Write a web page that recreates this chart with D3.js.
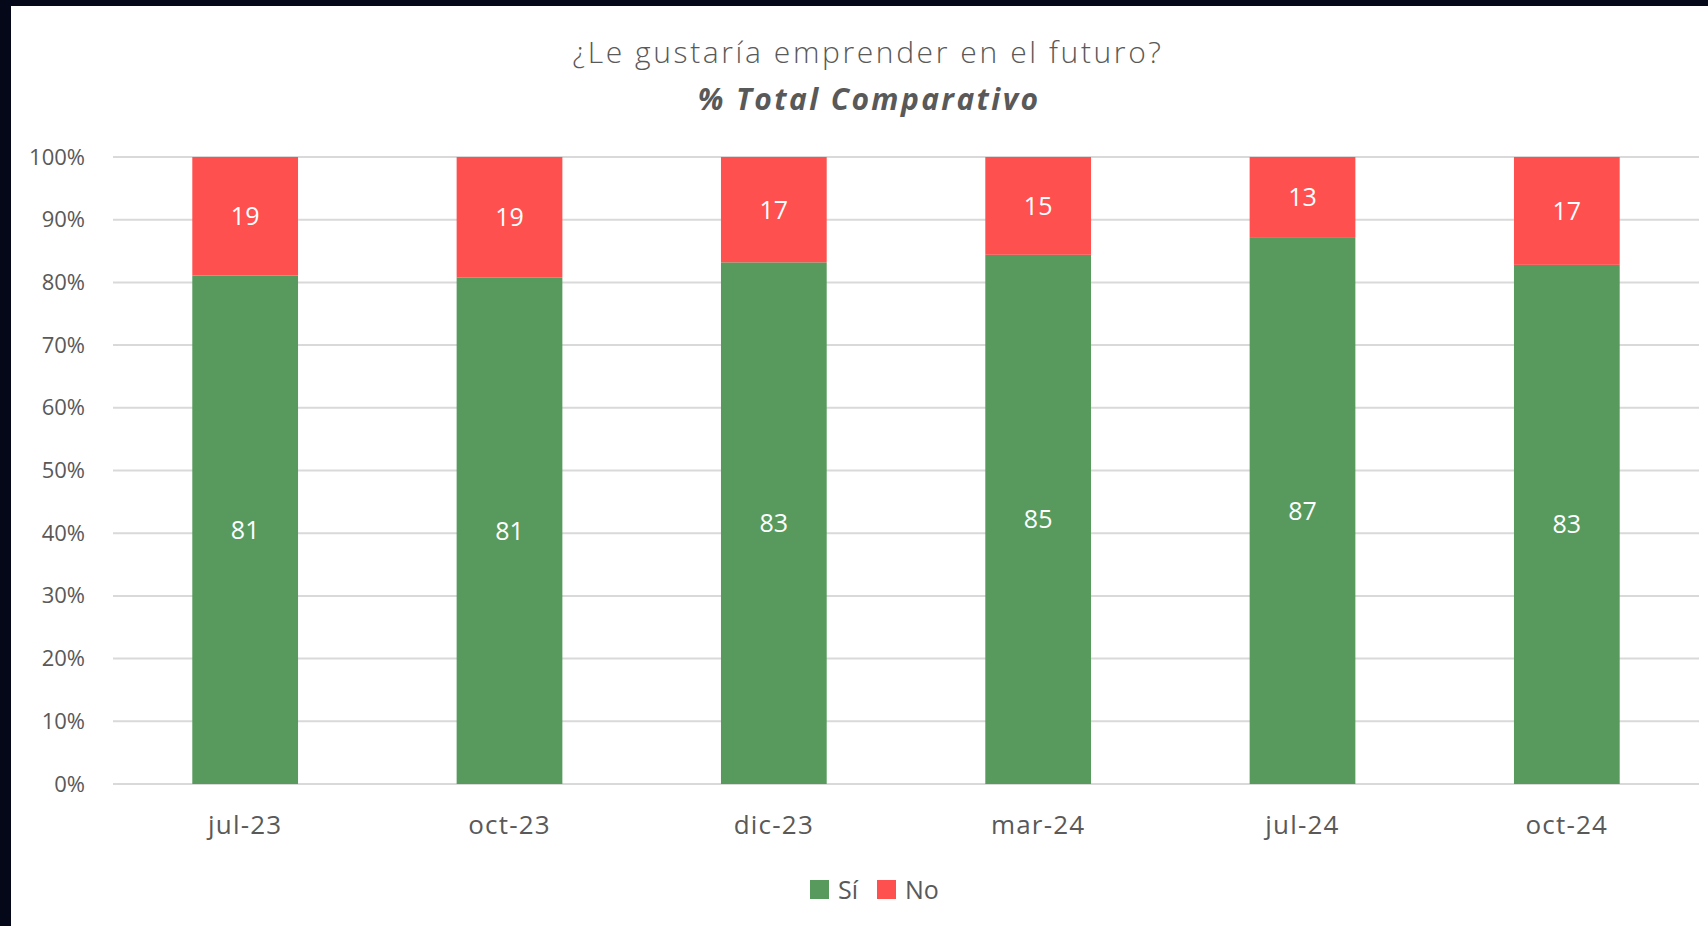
<!DOCTYPE html>
<html lang="es">
    <head>
        <meta charset="utf-8">
        <style>
            body {
                margin: 0;
                background: #040818;
            }
            text {
                font-family: "Open Sans", sans-serif;
            }
        </style>
        <script src="https://d3js.org/d3.v7.min.js"></script>
        <title>Emprender</title>
    </head>
    <body>
        <div id="chart"></div>
        <script>
            // data
            var periods = ["jul-23", "oct-23", "dic-23", "mar-24", "jul-24", "oct-24"];
            var si = [81.1, 80.8, 83.2, 84.4, 87.1, 82.8];
            var no = [18.9, 19.2, 16.8, 15.6, 12.9, 17.2];
            var siLabels = ["81", "81", "83", "85", "87", "83"];
            var noLabels = ["19", "19", "17", "15", "13", "17"];
            var yTicks = [0, 10, 20, 30, 40, 50, 60, 70, 80, 90, 100];
            var seriesNames = ["Sí", "No"];
            var colors = ["#589A5D", "#FF5050"];

            var W = 1708, H = 926;
            var margin = {top: 157, right: 9, bottom: 142, left: 113},
                width = W - margin.left - margin.right,
                height = H - margin.top - margin.bottom;

            var root = d3.select("#chart")
                .append("svg")
                    .attr("width", W)
                    .attr("height", H);

            // white panel over dark background
            root.append("rect")
                .attr("x", 11).attr("y", 6)
                .attr("width", W - 11).attr("height", H - 6)
                .attr("fill", "#ffffff");

            root.append("text")
                .attr("x", 868).attr("y", 63)
                .attr("text-anchor", "middle")
                .attr("font-size", 30)
                .attr("font-weight", 300)
                .attr("letter-spacing", 2.6)
                .attr("fill", "#595959")
                .text("¿Le gustaría emprender en el futuro?");

            root.append("text")
                .attr("x", 869).attr("y", 110)
                .attr("text-anchor", "middle")
                .attr("font-size", 30)
                .attr("font-weight", 700)
                .attr("font-style", "italic")
                .attr("letter-spacing", 2.4)
                .attr("fill", "#595959")
                .text("% Total Comparativo");

            var svg = root.append("g")
                .attr("transform", "translate(" + margin.left + "," + margin.top + ")");

            var x = d3.scaleBand()
                .domain(periods)
                .range([0, width])
                .paddingInner(0.6)
                .paddingOuter(0.3);

            var y = d3.scaleLinear()
                .domain([0, 100])
                .range([height, 0]);

            // gridlines
            svg.selectAll(".grid")
                .data(yTicks)
                .enter()
                .append("line")
                    .attr("x1", 0).attr("x2", width)
                    .attr("y1", function(d) { return y(d); })
                    .attr("y2", function(d) { return y(d); })
                    .attr("stroke", "#d9d9d9")
                    .attr("stroke-width", 2);

            var yAxis = svg.append("g")
                .call(d3.axisLeft(y).tickValues(yTicks).tickSize(0).tickPadding(28)
                    .tickFormat(function(d) { return d + "%"; }));
            yAxis.select(".domain").remove();
            yAxis.selectAll("text")
                .attr("font-size", 22)
                .attr("fill", "#595959");

            var xAxis = svg.append("g")
                .attr("transform", "translate(0," + height + ")")
                .call(d3.axisBottom(x).tickSize(0).tickPadding(32));
            xAxis.select(".domain").remove();
            xAxis.selectAll("text")
                .attr("font-size", 26)
                .attr("letter-spacing", 1.2)
                .attr("fill", "#595959");

            var rows = periods.map(function(p, i) {
                return {period: p, si: si[i], no: no[i], siLabel: siLabels[i], noLabel: noLabels[i]};
            });

            var stack = d3.stack().keys(["si", "no"]);
            var layers = stack(rows);

            var groups = svg.selectAll(".layer")
                .data(layers)
                .enter()
                .append("g")
                    .attr("fill", function(d, i) { return colors[i]; });

            groups.selectAll("rect")
                .data(function(d) { return d; })
                .enter()
                .append("rect")
                    .attr("x", function(d) { return x(d.data.period); })
                    .attr("y", function(d) { return y(d[1]); })
                    .attr("width", x.bandwidth())
                    .attr("height", function(d) { return y(d[0]) - y(d[1]); });

            groups.selectAll("text")
                .data(function(d) { return d.map(function(v) { v.key = d.key; return v; }); })
                .enter()
                .append("text")
                    .attr("x", function(d) { return x(d.data.period) + x.bandwidth() / 2; })
                    .attr("y", function(d) { return (y(d[0]) + y(d[1])) / 2; })
                    .attr("dy", "0.36em")
                    .attr("text-anchor", "middle")
                    .attr("font-size", 25)
                    .attr("fill", "#ffffff")
                    .text(function(d) { return d.key === "si" ? d.data.siLabel : d.data.noLabel; });

            // legend
            var legend = root.append("g")
                .attr("transform", "translate(810,880)");
            var items = legend.selectAll(".item")
                .data(seriesNames)
                .enter()
                .append("g")
                    .attr("transform", function(d, i) { return "translate(" + (i * 67) + ",0)"; });
            items.append("rect")
                .attr("width", 19).attr("height", 19)
                .attr("fill", function(d, i) { return colors[i]; });
            items.append("text")
                .attr("x", 28).attr("y", 10)
                .attr("dy", "0.36em")
                .attr("font-size", 25)
                .attr("fill", "#595959")
                .text(function(d) { return d; });
        </script>
    </body>
</html>
